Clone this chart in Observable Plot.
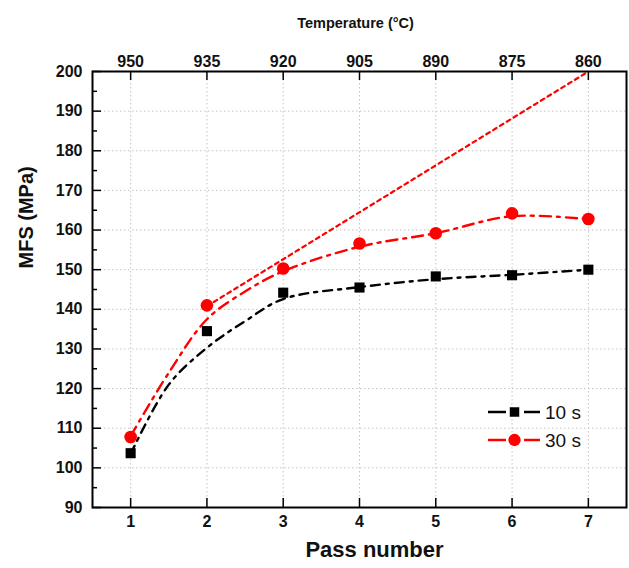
<!DOCTYPE html>
<html>
<head>
<meta charset="utf-8">
<script src="https://cdn.jsdelivr.net/npm/d3@7"></script>
<script src="https://cdn.jsdelivr.net/npm/@observablehq/plot@0.6"></script>
<style>
  html, body { margin: 0; padding: 0; background: #fff; }
  #wrap { position: relative; width: 629px; height: 568px; }
  #legend { position: absolute; left: 0; top: 0; pointer-events: none; }
  svg { font-family: "Liberation Sans", Arial, sans-serif; }
</style>
</head>
<body>
<div id="wrap"></div>
<script>
// ---- data ----
const passes = [1, 2, 3, 4, 5, 6, 7];
const temperatures = [950, 935, 920, 905, 890, 875, 860];
const mfs10 = [103.7, 134.5, 144.2, 145.5, 148.3, 148.6, 150.0];
const mfs30 = [107.8, 141.0, 150.3, 156.6, 159.2, 164.2, 162.8];
// fitted (smooth) curves
const fitPasses = [1, 1.5, 2, 2.5, 3, 4, 5, 6, 7];
const fit10 = [103.5, 121.0, 130.3, 137.0, 142.6, 145.6, 147.6, 148.7, 150.0];
const fit30 = [108.0, 124.0, 137.5, 144.5, 149.6, 155.8, 159.2, 163.5, 162.7];
// extrapolated dotted line (30 s)
const extraPasses = [2, 7];
const extra30 = [140.8, 200];
const yMajor = [90, 100, 110, 120, 130, 140, 150, 160, 170, 180, 190, 200];
const yMinor = [95, 105, 115, 125, 135, 145, 155, 165, 175, 185, 195];
const seriesNames = ["10 s", "30 s"];

// ---- tables ----
const points = passes.flatMap((p, i) => [
  {pass: p, mfs: mfs10[i], series: "10 s"},
  {pass: p, mfs: mfs30[i], series: "30 s"}
]);
const fits = fitPasses.flatMap((p, i) => [
  {pass: p, mfs: fit10[i], series: "10 s"},
  {pass: p, mfs: fit30[i], series: "30 s"}
]);
const extra = extraPasses.map((p, i) => ({pass: p, mfs: extra30[i]}));
const tempOf = new Map(passes.map((p, i) => [p, temperatures[i]]));

const W = 629, H = 568;
const mL = 92, mR = 3, mT = 71, mB = 61;
const plotW = W - mL - mR, plotH = H - mT - mB;
const font = {fontSize: 16, fontWeight: "bold", fill: "#111"};

const chart = Plot.plot({
  width: W, height: H,
  marginLeft: mL, marginRight: mR, marginTop: mT, marginBottom: mB,
  style: {fontFamily: "'Liberation Sans', Arial, sans-serif", background: "#fff"},
  x: {domain: [0.5, 7.5]},
  y: {domain: [90, 200]},
  marks: [
    Plot.gridY(yMajor, {stroke: "#c4c4c4", strokeOpacity: 1, strokeDasharray: "1.5,2.5"}),
    Plot.gridX(passes, {stroke: "#c4c4c4", strokeOpacity: 1, strokeDasharray: "1.5,2.5"}),
    Plot.line(extra, {x: "pass", y: "mfs", stroke: "#ff0000", strokeWidth: 2.2, strokeDasharray: "4,4"}),
    Plot.line(fits.filter(d => d.series === "10 s"), {x: "pass", y: "mfs", curve: "catmull-rom", stroke: "#000", strokeWidth: 2.4, strokeDasharray: "9,6,3,6"}),
    Plot.line(fits.filter(d => d.series === "30 s"), {x: "pass", y: "mfs", curve: "catmull-rom", stroke: "#ff0000", strokeWidth: 2.4, strokeDasharray: "11,6,3,6"}),
    Plot.dot(points.filter(d => d.series === "10 s"), {x: "pass", y: "mfs", symbol: "square", r: 5.7, fill: "#000"}),
    Plot.dot(points.filter(d => d.series === "30 s"), {x: "pass", y: "mfs", symbol: "circle", r: 6.3, fill: "#ff0000"}),
    Plot.frame({stroke: "#000", strokeWidth: 2}),
    // inward ticks
    Plot.tickY(yMajor, {y: d => d, insetRight: plotW - 9, stroke: "#000", strokeWidth: 1.5}),
    Plot.tickY(yMinor, {y: d => d, insetRight: plotW - 5, stroke: "#000", strokeWidth: 1.5}),
    Plot.tickX(passes, {x: d => d, insetTop: plotH - 9, stroke: "#000", strokeWidth: 1.5}),
    Plot.tickX(passes, {x: d => d, insetBottom: plotH - 9, stroke: "#000", strokeWidth: 1.5}),
    // axis labels
    Plot.axisY(yMajor, {anchor: "left", tickSize: 0, tickPadding: 10, label: null, ...font}),
    Plot.axisX(passes, {anchor: "bottom", tickSize: 0, tickPadding: 8, label: null, ...font}),
    Plot.axisX(passes, {anchor: "top", tickSize: 0, tickPadding: 5, label: null, tickFormat: d => tempOf.get(d), ...font}),
    Plot.text(["MFS (MPa)"], {frameAnchor: "left", rotate: -90, dx: -66, dy: -21, fontSize: 20, fontWeight: "bold", fill: "#111"}),
    Plot.text(["Pass number"], {frameAnchor: "bottom", dx: 15, dy: 49, fontSize: 22, fontWeight: "bold", fill: "#111"}),
    Plot.text(["Temperature (°C)"], {frameAnchor: "top", dx: -4, dy: -54, fontSize: 14.5, fontWeight: "bold", fill: "#111"})
  ]
});
const wrap = document.getElementById("wrap");
wrap.appendChild(chart);

// ---- legend (overlay) ----
const leg = d3.select(wrap).append("svg").attr("id", "legend")
  .attr("width", W).attr("height", H);
const legendRows = [
  {name: seriesNames[0], color: "#000", symbol: d3.symbolSquare, y: 412},
  {name: seriesNames[1], color: "#ff0000", symbol: d3.symbolCircle, y: 440}
];
for (const r of legendRows) {
  const g = leg.append("g");
  g.append("line").attr("x1", 488).attr("x2", 506).attr("y1", r.y).attr("y2", r.y)
    .attr("stroke", r.color).attr("stroke-width", 2.5);
  g.append("line").attr("x1", 524).attr("x2", 540).attr("y1", r.y).attr("y2", r.y)
    .attr("stroke", r.color).attr("stroke-width", 2.5);
  g.append("path").attr("transform", `translate(514.5,${r.y})`)
    .attr("d", d3.symbol(r.symbol, r.symbol === d3.symbolSquare ? 90 : 120)())
    .attr("fill", r.color);
  g.append("text").attr("x", 545).attr("y", r.y).attr("dy", "0.35em")
    .attr("font-size", 19).attr("fill", "#111")
    .attr("font-family", "'Liberation Sans', Arial, sans-serif")
    .text(r.name);
}
</script>
</body>
</html>
